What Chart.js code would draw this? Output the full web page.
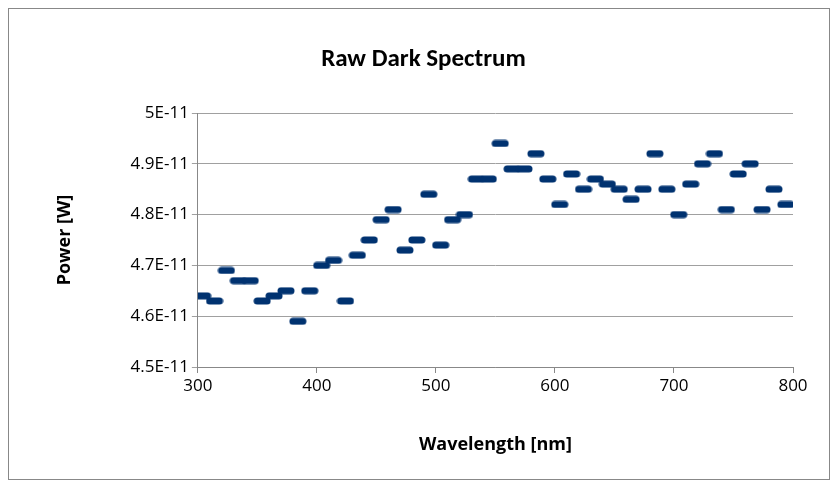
<!DOCTYPE html>
<html><head><meta charset="utf-8">
<script src="https://cdn.jsdelivr.net/npm/chart.js@4"></script>
<style>
body{margin:0;background:#fff}
#wrap{position:absolute;left:8px;top:8px;width:822px;height:472px;border:1px solid #888;box-sizing:border-box}
</style></head><body>
<div id="wrap"><canvas id="c"></canvas></div>
<script>
// wavelength (nm) and dark power (x1E-11 W)
const wavelengths = [304,314,324,334,344,354,364,374,384,394,404,414,424,434,444,454,464,474,484,494,504,514,524,534,544,554,564,574,584,594,604,614,624,634,644,654,664,674,684,694,704,714,724,734,744,754,764,774,784,794];
const power = [4.64,4.63,4.69,4.67,4.67,4.63,4.64,4.65,4.59,4.65,4.70,4.71,4.63,4.72,4.75,4.79,4.81,4.73,4.75,4.84,4.74,4.79,4.80,4.87,4.87,4.94,4.89,4.89,4.92,4.87,4.82,4.88,4.85,4.87,4.86,4.85,4.83,4.85,4.92,4.85,4.80,4.86,4.90,4.92,4.81,4.88,4.90,4.81,4.85,4.82];
const yTicks = [4.5,4.6,4.7,4.8,4.9,5.0];

// dash-shaped marker
const dash = document.createElement('canvas');
dash.width = 18; dash.height = 8;
const g = dash.getContext('2d');
g.fillStyle = '#003270';
g.beginPath(); g.roundRect(0.5,0.5,17,7,3.5); g.fill();

new Chart(document.getElementById('c'), {
  type: 'scatter',
  data: { datasets: [{
    data: wavelengths.map((w,i) => ({x:w, y:power[i]})),
    pointStyle: dash, pointRadius: 5, borderColor:'#003270', backgroundColor:'#003270'
  }]},
  options: {
    responsive: true, maintainAspectRatio: false, animation: false,
    layout: { padding: {left:45, right:36, top:26, bottom:23} },
    plugins: {
      legend: {display:false},
      title: {display:true, text:'Raw Dark Spectrum', color:'#000',
        font:{family:'Calibri, Carlito, "Open Sans"', size:25, weight:'bold'}, padding:{top:10,bottom:38}}
    },
    scales: {
      x: { type:'linear', min:300, max:800,
        ticks:{stepSize:100, color:'#000', font:{family:'"Open Sans"', size:17}},
        grid:{drawOnChartArea:false, color:'#888', tickLength:6},
        border:{color:'#888'},
        title:{display:true, text:'Wavelength [nm]', color:'#000', padding:{top:35,bottom:0}, font:{family:'"Open Sans"', size:18, weight:'bold'}}
      },
      y: { min:4.5, max:5.0,
        afterBuildTicks: ax => { ax.ticks = yTicks.map(v => ({value:v})); },
        ticks:{color:'#000', font:{family:'"Open Sans"', size:17}, callback: v => (v===5?'5':v.toFixed(1)) + 'E-11'},
        grid:{color:'#a0a0a0', tickLength:6},
        border:{color:'#888'},
        title:{display:true, text:'Power [W]', color:'#000', padding:{top:0,bottom:52}, font:{family:'"Open Sans"', size:18, weight:'bold'}}
      }
    }
  }
});
</script></body></html>
